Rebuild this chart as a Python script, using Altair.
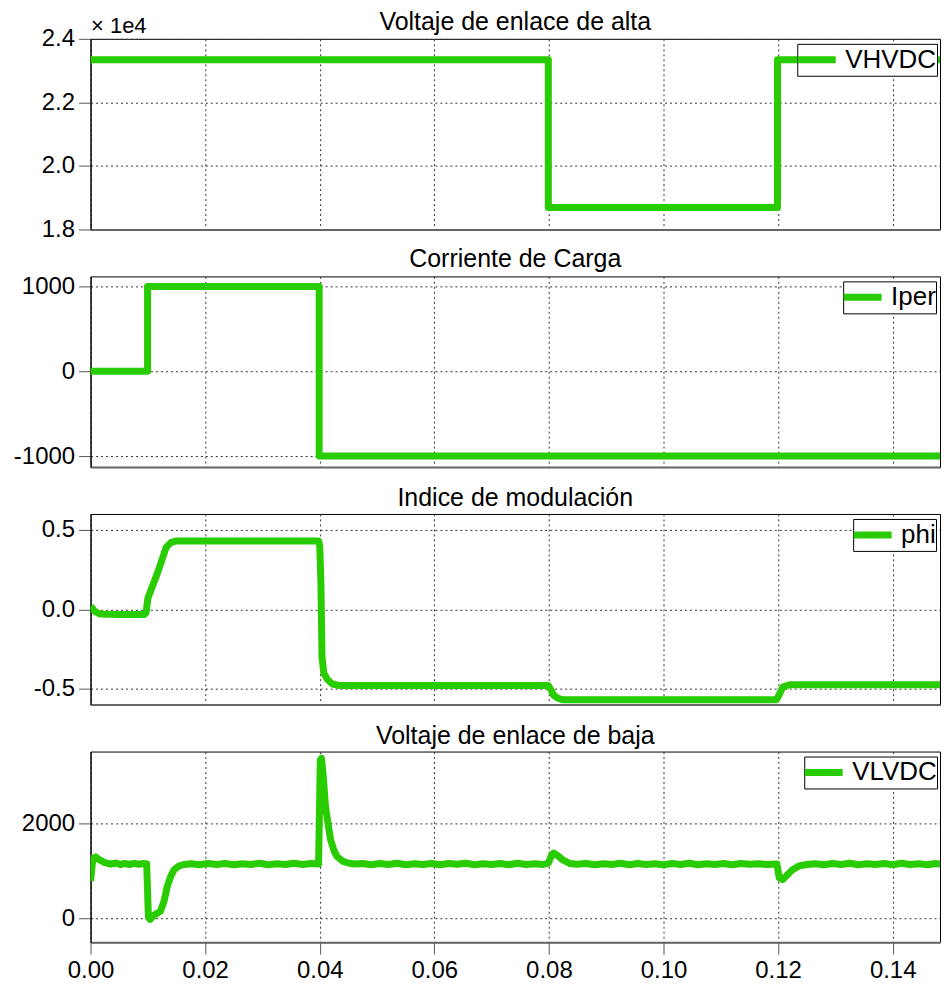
import altair as alt
import pandas as pd

FONT = "Liberation Sans"
GREEN = "#28cc00"

# ---------------- data ----------------
x_ticks = [0.0, 0.02, 0.04, 0.06, 0.08, 0.10, 0.12, 0.14]

vh_t = [0.0, 0.0799, 0.0799, 0.1199, 0.1199, 0.15]
vh_v = [23340, 23340, 18690, 18690, 23340, 23340]

ip_t = [0.0, 0.00995, 0.00995, 0.0399, 0.0399, 0.15]
ip_v = [0, 0, 1000, 1000, -1000, -1000]

phi_t = [0.0, 0.0008, 0.0017, 0.0050, 0.0094, 0.0097, 0.0100, 0.0117, 0.0132,
         0.0140, 0.0150, 0.0398, 0.0400, 0.0402, 0.0404, 0.0407, 0.0413, 0.0422,
         0.0435, 0.0600, 0.0799, 0.0804, 0.0808, 0.0816, 0.0825, 0.1000, 0.1197,
         0.1203, 0.1208, 0.1220, 0.1350, 0.15]
phi_v = [0.02, -0.015, -0.03, -0.033, -0.033, -0.02, 0.07, 0.23, 0.39,
         0.42, 0.43, 0.43, 0.40, 0.18, -0.30, -0.40, -0.44, -0.47,
         -0.48, -0.48, -0.48, -0.51, -0.54, -0.56, -0.57, -0.57, -0.57,
         -0.53, -0.49, -0.475, -0.475, -0.475]

vl_t = [0.0, 0.0004, 0.0009, 0.0015, 0.0025, 0.0035, 0.0045, 0.0052, 0.0060,
        0.0068, 0.0076, 0.0084, 0.0092, 0.0098, 0.0101, 0.0104, 0.0110, 0.0122,
        0.0128, 0.0134, 0.0140, 0.0146, 0.0155, 0.0163, 0.0175, 0.0190, 0.0205,
        0.0220, 0.0235, 0.0250, 0.0265, 0.0280, 0.0295, 0.0310, 0.0325, 0.0340,
        0.0355, 0.0370, 0.0385, 0.0398, 0.0401, 0.0403, 0.0406, 0.0410, 0.0415,
        0.0419, 0.0425, 0.0430, 0.0440, 0.0448, 0.0460, 0.0475, 0.0490, 0.0505,
        0.0520, 0.0535, 0.0550, 0.0565, 0.0580, 0.0595, 0.0610, 0.0625, 0.0640,
        0.0655, 0.0670, 0.0685, 0.0700, 0.0715, 0.0730, 0.0745, 0.0760, 0.0775,
        0.0790, 0.0799, 0.0805, 0.0808, 0.0815, 0.0825, 0.0837, 0.0850, 0.0865,
        0.0880, 0.0895, 0.0910, 0.0925, 0.0940, 0.0955, 0.0970, 0.0985, 0.1000,
        0.1015, 0.1030, 0.1045, 0.1060, 0.1075, 0.1090, 0.1105, 0.1120, 0.1135,
        0.1150, 0.1165, 0.1180, 0.1198, 0.1202, 0.1208, 0.1215, 0.1225, 0.1237,
        0.1250, 0.1265, 0.1280, 0.1295, 0.1310, 0.1325, 0.1340, 0.1355, 0.1370,
        0.1385, 0.1400, 0.1415, 0.1430, 0.1445, 0.1460, 0.1475, 0.1490, 0.15]
vl_v = [780, 1250, 1290, 1230, 1170, 1140, 1160, 1130, 1150,
        1130, 1155, 1135, 1150, 1140, 20, -20, 60, 150,
        350, 675, 880, 1025, 1100, 1130, 1145, 1125, 1150,
        1130, 1150, 1125, 1145, 1130, 1155, 1125, 1145, 1130,
        1155, 1130, 1150, 1140, 3320, 3360, 3000, 2350, 1950,
        1650, 1420, 1300, 1200, 1165, 1140, 1150, 1125, 1150,
        1130, 1155, 1125, 1145, 1130, 1150, 1125, 1150, 1135,
        1155, 1125, 1145, 1130, 1150, 1125, 1155, 1130, 1145,
        1130, 1160, 1330, 1370, 1320, 1220, 1150, 1135, 1150,
        1125, 1145, 1130, 1155, 1125, 1150, 1130, 1145, 1125,
        1150, 1130, 1155, 1125, 1145, 1130, 1150, 1125, 1150,
        1135, 1145, 1130, 1140, 850, 815, 900, 1020, 1100,
        1130, 1145, 1125, 1150, 1130, 1155, 1125, 1145, 1130,
        1150, 1125, 1155, 1130, 1145, 1125, 1150, 1135, 1140]

W = 851
H = 191
X_DOMAIN = [0, 0.14826]


def panel(t, v, name, title, y_domain, y_axis, legend_x, bottom=False, title_offset=3):
    df = pd.DataFrame({"t": t, "v": v, "serie": [name] * len(t)})
    if bottom:
        xaxis = alt.Axis(values=x_ticks, format=".2f", title=None, ticks=True,
                         labels=True, labelFlush=False, domainColor="#666", domainWidth=2)
    else:
        xaxis = alt.Axis(values=x_ticks, title=None, ticks=False, labels=False,
                         domainColor="#666", domainWidth=2)
    return (
        alt.Chart(df, title=alt.Title(title, offset=title_offset))
        .mark_line(strokeWidth=7, strokeJoin="round", strokeCap="butt", clip=True)
        .encode(
            x=alt.X("t:Q", scale=alt.Scale(domain=X_DOMAIN, nice=False, zero=False), axis=xaxis),
            y=alt.Y("v:Q", scale=alt.Scale(domain=y_domain, nice=False, zero=False), axis=y_axis),
            color=alt.Color("serie:N", scale=alt.Scale(domain=[name], range=[GREEN]),
                            legend=alt.Legend(title=None, orient="none",
                                              legendX=legend_x, legendY=5)),
            order=alt.Order("t:Q"),
        )
        .properties(width=W, height=H)
    )


neg = "(datum.value < 0 ? '-' : '') + "

p1 = panel(vh_t, vh_v, "VHVDC", "Voltaje de enlace de alta", [18000, 24000],
           alt.Axis(values=[18000, 20000, 22000, 24000],
                    labelExpr="format(datum.value / 10000, '.1f')",
                    title="× 1e4", titleAngle=0, titleAlign="left",
                    titleBaseline="alphabetic", titleX=0, titleY=-6,
                    titleFontSize=22, titleFontWeight="normal", titleFont=FONT,
                    titleColor="black"),
           legend_x=708, title_offset=-20)
p2 = panel(ip_t, ip_v, "Iper", "Corriente de Carga", [-1130, 1120],
           alt.Axis(values=[-1000, 0, 1000], title=None,
                    labelExpr=neg + "format(abs(datum.value), 'd')"),
           legend_x=754)
p3 = panel(phi_t, phi_v, "phi", "Indice de modulación", [-0.6, 0.6],
           alt.Axis(values=[-0.5, 0, 0.5], title=None,
                    labelExpr=neg + "format(abs(datum.value), '.1f')"),
           legend_x=764)
p4 = panel(vl_t, vl_v, "VLVDC", "Voltaje de enlace de baja", [-500, 3500],
           alt.Axis(values=[0, 2000], title=None, format="d"), legend_x=715, bottom=True)

chart = (
    alt.vconcat(p1, p2, p3, p4, spacing=47, bounds="flush")
    .resolve_scale(color="independent")
    .properties(padding={"left": 4.7, "top": 0, "right": 0, "bottom": 0})
    .configure_view(stroke="black", strokeWidth=1)
    .configure_axis(
        labelFont=FONT, labelFontSize=24, labelColor="black", labelPadding=4,
        tickColor="#555", tickSize=12, tickWidth=1,
        grid=True, gridColor="#333", gridDash=[2, 3], gridWidth=1, gridOpacity=1,
        domainColor="black", domainWidth=1,
    )
    .configure_axisY(minExtent=77, maxExtent=77)
    .configure_title(font=FONT, fontSize=25, fontWeight="normal", color="black",
                     anchor="middle", frame="group", baseline="alphabetic")
    .configure_legend(
        padding=0, strokeColor="black", fillColor="white",
        cornerRadius=0, symbolType="stroke", symbolSize=1444, symbolStrokeWidth=7,
        symbolOffset=-3,
        labelFont=FONT, labelFontSize=26, labelColor="black", labelOffset=6,
        labelLimit=200, clipHeight=32,
    )
)

chart.save("out.html", embed_options={"renderer": "svg", "actions": False})
